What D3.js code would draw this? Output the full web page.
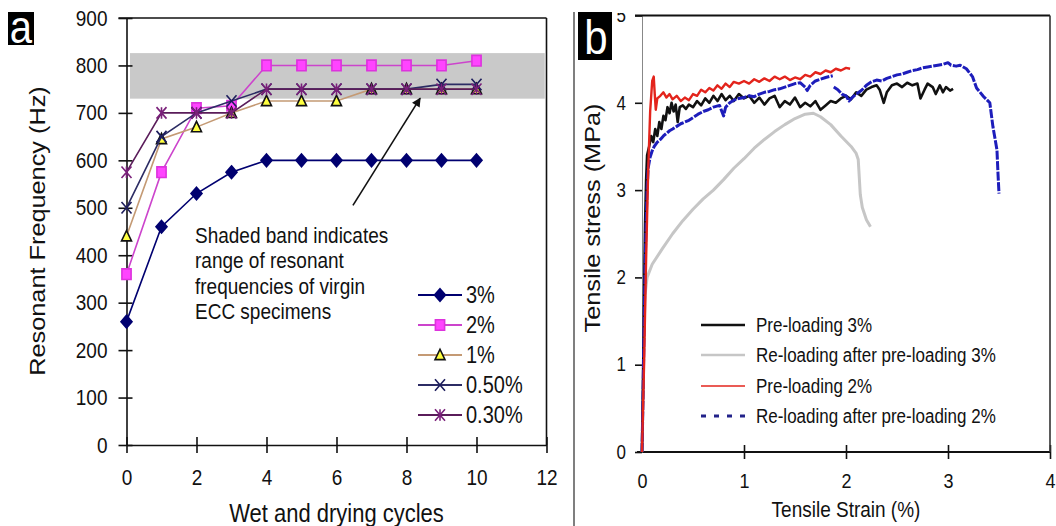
<!DOCTYPE html>
<html>
<head>
<meta charset="utf-8">
<script src="https://cdn.jsdelivr.net/npm/d3@7"></script>
<style>
body { margin: 0; background: #fff; }
svg text { font-family: "Liberation Sans", Arial, sans-serif; fill: #111; }
</style>
</head>
<body>
<svg id="chart" width="1056" height="526"></svg>
<script>
// ---- panel a data: resonant frequency vs wet/dry cycles
var cycles = [0, 1, 2, 3, 4, 5, 6, 7, 8, 9, 10];
var freq3  = [260, 460, 530, 575, 600, 600, 600, 600, 600, 600, 600];
var freq2  = [360, 575, 710, 715, 800, 800, 800, 800, 800, 800, 810];
var freq1  = [440, 645, 670, 700, 725, 725, 725, 750, 750, 750, 750];
var freq05 = [500, 650, 700, 725, 750, 750, 750, 750, 750, 760, 760];
var freq03 = [575, 700, 700, 700, 750, 750, 750, 750, 750, 750, 750];
var namesA = ["3%", "2%", "1%", "0.50%", "0.30%"];
var xTicksA = [0, 2, 4, 6, 8, 10, 12];
var yTicksA = [0, 100, 200, 300, 400, 500, 600, 700, 800, 900];
var bandHz = [730, 826];          // virgin ECC range
var bandCycles = [0.1, 11.95];
var arrowFrom = [6.47, 505], arrowTo = [8.39, 731];
var noteLines = ["Shaded band indicates", "range of resonant", "frequencies of virgin", "ECC specimens"];

// ---- panel b data: [strain %, stress MPa]
var preload3 = [[0,0],[0.01,0.8],[0.02,1.8],[0.03,2.6],[0.04,3.1],[0.05,3.4],[0.07,3.5],[0.09,3.62],[0.11,3.55],
  [0.13,3.7],[0.15,3.62],[0.17,3.78],[0.19,3.7],[0.21,3.85],[0.23,3.8],[0.25,3.95],[0.27,3.88],[0.29,4.0],
  [0.31,3.9],[0.33,3.98],[0.35,3.78],[0.37,3.95],[0.4,3.97],[0.43,3.93],[0.46,3.98],[0.5,3.95],[0.54,4.02],
  [0.58,3.97],[0.62,4.05],[0.66,4.0],[0.7,4.08],[0.74,4.02],[0.78,4.1],[0.82,4.03],[0.86,4.08],[0.9,4.02],
  [0.95,4.1],[1.0,4.05],[1.05,4.08],[1.1,4.0],[1.15,4.06],[1.2,3.98],[1.25,4.05],[1.3,4.08],[1.35,3.95],
  [1.4,4.02],[1.45,3.98],[1.5,4.06],[1.55,3.95],[1.6,4.0],[1.65,3.96],[1.7,4.02],[1.75,3.92],[1.8,3.97],
  [1.85,4.02],[1.9,4.0],[1.95,4.05],[2.0,4.08],[2.05,4.04],[2.1,4.12],[2.15,4.08],[2.2,4.15],[2.25,4.18],
  [2.3,4.2],[2.33,4.15],[2.37,4.0],[2.4,4.12],[2.45,4.2],[2.5,4.22],[2.55,4.18],[2.6,4.23],[2.65,4.2],
  [2.7,4.22],[2.73,4.05],[2.77,4.15],[2.8,4.22],[2.85,4.18],[2.88,4.1],[2.92,4.2],[2.95,4.12],[2.98,4.18],
  [3.02,4.14],[3.05,4.16]];
var reload3 = [[0,0],[0.01,0.7],[0.02,1.4],[0.03,1.8],[0.05,2.0],[0.1,2.15],[0.2,2.33],[0.3,2.5],[0.4,2.65],
  [0.5,2.78],[0.6,2.9],[0.7,3.0],[0.8,3.12],[0.9,3.25],[1.0,3.36],[1.1,3.48],[1.2,3.58],[1.3,3.67],
  [1.4,3.75],[1.5,3.82],[1.6,3.87],[1.68,3.88],[1.75,3.84],[1.85,3.75],[1.95,3.62],[2.05,3.5],[2.1,3.42],
  [2.12,3.35],[2.13,3.15],[2.14,2.95],[2.16,2.8],[2.2,2.66],[2.24,2.58]];
var preload2 = [[0,0],[0.02,1.0],[0.04,2.2],[0.06,3.2],[0.08,3.9],[0.1,4.25],[0.115,4.3],[0.125,4.1],
  [0.135,3.92],[0.15,4.05],[0.18,4.08],[0.21,4.12],[0.24,4.06],[0.27,4.1],[0.3,4.04],[0.34,4.08],[0.38,4.02],
  [0.42,4.06],[0.46,4.03],[0.5,4.1],[0.54,4.08],[0.58,4.15],[0.62,4.12],[0.66,4.17],[0.7,4.14],[0.74,4.2],
  [0.78,4.16],[0.82,4.22],[0.86,4.18],[0.9,4.24],[0.95,4.22],[1.0,4.25],[1.05,4.22],[1.1,4.27],[1.15,4.24],
  [1.2,4.28],[1.25,4.25],[1.3,4.3],[1.35,4.27],[1.4,4.3],[1.45,4.26],[1.5,4.29],[1.55,4.27],[1.6,4.32],
  [1.65,4.3],[1.7,4.35],[1.75,4.33],[1.8,4.37],[1.85,4.35],[1.9,4.39],[1.95,4.37],[2.0,4.4],[2.04,4.39]];
var reload2 = [[0,0],[0.01,0.6],[0.02,1.4],[0.03,2.1],[0.04,2.6],[0.05,3.0],[0.06,3.25],[0.08,3.38],[0.1,3.45],
  [0.12,3.5],[0.15,3.55],[0.18,3.58],[0.21,3.62],[0.24,3.65],[0.27,3.68],[0.3,3.7],[0.34,3.73],[0.38,3.76],
  [0.42,3.78],[0.46,3.8],[0.5,3.83],[0.55,3.87],[0.6,3.9],[0.65,3.92],[0.7,3.95],[0.76,3.97],[0.8,3.85],
  [0.82,3.95],[0.86,4.0],[0.9,4.03],[0.95,4.05],[1.0,4.06],[1.05,4.08],[1.1,4.07],[1.15,4.1],[1.2,4.12],
  [1.25,4.13],[1.3,4.15],[1.35,4.16],[1.4,4.18],[1.45,4.2],[1.5,4.22],[1.55,4.23],[1.6,4.18],[1.62,4.14],
  [1.65,4.2],[1.7,4.25],[1.75,4.27],[1.8,4.29],[1.87,4.31],[1.875,null],
  [1.88,4.18],[1.92,4.15],[1.96,4.1],[2.0,4.08],[2.03,4.02],[2.06,4.06],[2.1,4.1],[2.15,4.14],[2.2,4.2],
  [2.25,4.24],[2.3,4.26],[2.35,4.25],[2.4,4.28],[2.45,4.3],[2.5,4.32],[2.55,4.33],[2.6,4.35],[2.65,4.37],
  [2.7,4.38],[2.75,4.4],[2.8,4.41],[2.85,4.42],[2.9,4.43],[2.95,4.44],[3.0,4.46],[3.03,4.43],[3.08,4.42],
  [3.12,4.43],[3.18,4.39],[3.24,4.3],[3.28,4.17],[3.35,4.07],[3.41,4.0],[3.44,3.73],[3.48,3.46],[3.49,3.19],
  [3.5,2.96]];
var namesB = ["Pre-loading 3%", "Re-loading after pre-loading 3%", "Pre-loading 2%", "Re-loading after pre-loading 2%"];
var xTicksB = [0, 1, 2, 3, 4];
var yTicksB = [0, 1, 2, 3, 4, 5];

var K = 1.15; // the scan is a bit tall, stretch the text vertically

var svg = d3.select("#chart");
svg.append("rect").attr("width", 1056).attr("height", 526).attr("fill", "#fff");

function stretch(sel) {
    sel.attr("transform", function() {
        var y = +this.getAttribute("y") || 0;
        return "translate(0," + y + ") scale(1," + K + ") translate(0," + (-y) + ")";
    });
}

function markerPath(type, s) {
    var h = s * K;
    if (type == "diamond") return "M0," + (-h) + "L" + s + ",0L0," + h + "L" + (-s) + ",0Z";
    if (type == "square") return "M" + (-s) + "," + (-h) + "H" + s + "V" + h + "H" + (-s) + "Z";
    if (type == "triangle") return "M0," + (-h) + "L" + s + "," + (h * 0.8) + "L" + (-s) + "," + (h * 0.8) + "Z";
    var x = "M" + (-s) + "," + (-h) + "L" + s + "," + h + "M" + s + "," + (-h) + "L" + (-s) + "," + h;
    if (type == "star") return x + "M0," + (-h) + "V" + h;
    return x;
}

// =================== panel a
var xA = d3.scaleLinear().domain([0, 12]).range([126.5, 546.5]);
var yA = d3.scaleLinear().domain([0, 900]).range([445, 18]);
var gA = svg.append("g");

gA.append("rect")
    .attr("x", xA(bandCycles[0]))
    .attr("width", xA(bandCycles[1]) - xA(bandCycles[0]))
    .attr("y", yA(bandHz[1]))
    .attr("height", yA(bandHz[0]) - yA(bandHz[1]))
    .attr("fill", "#c9c9c9");

// frame top + right
gA.append("line").attr("x1", xA(0) - 8).attr("x2", xA(12)).attr("y1", yA(900)).attr("y2", yA(900))
    .attr("stroke", "#111").attr("stroke-width", 1.6);
gA.append("line").attr("x1", xA(12)).attr("x2", xA(12)).attr("y1", yA(900)).attr("y2", yA(0))
    .attr("stroke", "#111").attr("stroke-width", 1.6);

var xAxisA = gA.append("g")
    .attr("transform", "translate(0," + yA(0) + ")")
    .call(d3.axisBottom(xA).tickValues(xTicksA).tickSize(8).tickSizeOuter(0).tickFormat(d3.format("d")));
var yAxisA = gA.append("g")
    .attr("transform", "translate(" + xA(0) + ",0)")
    .call(d3.axisLeft(yA).tickValues(yTicksA).tickSize(8).tickSizeOuter(0).tickFormat(d3.format("d")));

[xAxisA, yAxisA].forEach(function(ax) {
    ax.attr("font-family", null).attr("font-size", null);
    ax.select(".domain").attr("stroke", "#111").attr("stroke-width", 1.6);
    ax.selectAll(".tick line").attr("stroke", "#111").attr("stroke-width", 1.6);
    ax.selectAll(".tick text").style("font-size", "19px");
});
xAxisA.selectAll(".tick line").attr("y1", -8).attr("y2", 8);
xAxisA.selectAll(".tick text").attr("y", 24).call(stretch);
yAxisA.selectAll(".tick line").attr("x1", -8).attr("x2", 6);
yAxisA.selectAll(".tick text").attr("x", -19).call(stretch);

gA.append("text")
    .attr("transform", "translate(37,231) scale(1," + K + ") rotate(-90)")
    .attr("text-anchor", "middle").attr("dy", "0.35em")
    .style("font-size", "22px")
    .text("Resonant Frequency (Hz)");
gA.append("text")
    .attr("x", xA(6)).attr("y", 522)
    .attr("text-anchor", "middle")
    .style("font-size", "22px")
    .text("Wet and drying cycles")
    .call(stretch);

// note + arrow
svg.append("defs").append("marker")
    .attr("id", "head").attr("viewBox", "0 0 10 10").attr("refX", 9).attr("refY", 5)
    .attr("markerWidth", 11).attr("markerHeight", 9).attr("markerUnits", "userSpaceOnUse")
    .attr("orient", "auto")
  .append("path").attr("d", "M0,0L10,5L0,10Z").attr("fill", "#111");
gA.append("line")
    .attr("x1", xA(arrowFrom[0])).attr("y1", yA(arrowFrom[1]))
    .attr("x2", xA(arrowTo[0])).attr("y2", yA(arrowTo[1]))
    .attr("stroke", "#111").attr("stroke-width", 1.6)
    .attr("marker-end", "url(#head)");
gA.selectAll(".note").data(noteLines).enter().append("text")
    .attr("class", "note")
    .attr("x", 195)
    .attr("y", function(d, i) { return 243 + i * 25.5; })
    .style("font-size", "19px")
    .text(function(d) { return d; })
    .call(stretch);

var seriesA = [freq3, freq2, freq1, freq05, freq03];
var styleA = [
    {line: "#000070", mark: "diamond", size: 5.5, fill: "#000070", stroke: "#000070"},
    {line: "#cc44cc", mark: "square", size: 4.6, fill: "#ff44ff", stroke: "#dd33dd"},
    {line: "#c49a74", mark: "triangle", size: 5, fill: "#ffff40", stroke: "#111"},
    {line: "#2c2c64", mark: "x", size: 5, fill: "none", stroke: "#1c1c5c"},
    {line: "#5a1c5a", mark: "star", size: 5, fill: "none", stroke: "#7a207a"}
];

var lineA = d3.line()
    .x(function(d, i) { return xA(cycles[i]); })
    .y(function(d) { return yA(d); });

seriesA.forEach(function(vals, k) {
    var st = styleA[k];
    gA.append("path").datum(vals)
        .attr("d", lineA).attr("fill", "none")
        .attr("stroke", st.line).attr("stroke-width", 1.6);
    gA.selectAll(".m" + k).data(vals).enter().append("path")
        .attr("class", "m" + k)
        .attr("transform", function(d, i) { return "translate(" + xA(cycles[i]) + "," + yA(d) + ")"; })
        .attr("d", markerPath(st.mark, st.size))
        .attr("fill", st.fill).attr("stroke", st.stroke).attr("stroke-width", 1.6);
});

// legend a
var legA = gA.selectAll(".legA").data(namesA).enter().append("g")
    .attr("class", "legA")
    .attr("transform", function(d, i) { return "translate(418," + (295 + i * 30) + ")"; });
legA.append("line").attr("x1", 0).attr("x2", 44)
    .attr("stroke", function(d, i) { return styleA[i].line; }).attr("stroke-width", 1.8);
legA.append("path")
    .attr("transform", "translate(22,0)")
    .attr("d", function(d, i) { return markerPath(styleA[i].mark, styleA[i].size); })
    .attr("fill", function(d, i) { return styleA[i].fill; })
    .attr("stroke", function(d, i) { return styleA[i].stroke; }).attr("stroke-width", 1.6);
legA.append("text").attr("x", 48).attr("y", 8)
    .style("font-size", "20px")
    .text(function(d) { return d; })
    .call(stretch);

// panel letter a
svg.append("rect").attr("x", 8).attr("y", 12).attr("width", 26).attr("height", 33).attr("fill", "#000");
svg.append("text").attr("x", 21).attr("y", 43).attr("text-anchor", "middle")
    .style("font-size", "40px").style("fill", "#fff").text("a").call(stretch);

// divider
svg.append("line").attr("x1", 574).attr("x2", 574).attr("y1", 12).attr("y2", 526)
    .attr("stroke", "#555").attr("stroke-width", 1.5);

// =================== panel b
var xB = d3.scaleLinear().domain([0, 4]).range([642, 1050]);
var yB = d3.scaleLinear().domain([0, 5]).range([452, 15.5]);
var gB = svg.append("g");

var xAxisB = gB.append("g")
    .attr("transform", "translate(0," + yB(0) + ")")
    .call(d3.axisBottom(xB).tickValues(xTicksB).tickSize(7).tickSizeOuter(0).tickFormat(d3.format("d")));
var yAxisB = gB.append("g")
    .attr("transform", "translate(" + xB(0) + ",0)")
    .call(d3.axisLeft(yB).tickValues(yTicksB).tickSize(7).tickSizeOuter(0).tickFormat(d3.format("d")));
[xAxisB, yAxisB].forEach(function(ax) {
    ax.attr("font-family", null).attr("font-size", null);
    ax.selectAll(".tick line").attr("stroke", "#111").attr("stroke-width", 1.6);
});
xAxisB.select(".domain").attr("stroke", "#111").attr("stroke-width", 1.8)
    .attr("d", "M" + (xB(0) - 5) + ",0H" + xB(4));
xAxisB.selectAll(".tick line").attr("y1", -7).attr("y2", 7)
    .attr("stroke-opacity", function(d) { return d == 0 ? 0 : 1; });
xAxisB.selectAll(".tick text").attr("y", 21).style("font-size", "18px").call(stretch);
yAxisB.select(".domain").attr("stroke", "#888").attr("stroke-width", 1);
yAxisB.selectAll(".tick text").attr("x", -16).style("font-size", "17px").call(stretch);

gB.append("line").attr("x1", xB(0) - 7).attr("x2", xB(4)).attr("y1", yB(5)).attr("y2", yB(5))
    .attr("stroke", "#111").attr("stroke-width", 2);
gB.append("line").attr("x1", xB(4)).attr("x2", xB(4)).attr("y1", yB(5)).attr("y2", yB(0))
    .attr("stroke", "#333").attr("stroke-width", 1.6);
// scan is cropped just above the top tick label
gB.append("rect").attr("x", 596).attr("y", 0).attr("width", 40).attr("height", 13).attr("fill", "#fff");

gB.append("text")
    .attr("transform", "translate(592,218) scale(1," + K + ") rotate(-90)")
    .attr("text-anchor", "middle").attr("dy", "0.35em")
    .style("font-size", "22px")
    .text("Tensile stress (MPa)");
gB.append("text")
    .attr("x", xB(2)).attr("y", 517)
    .attr("text-anchor", "middle")
    .style("font-size", "19px")
    .text("Tensile Strain (%)")
    .call(stretch);

var seriesB = [preload3, reload3, preload2, reload2];
var styleB = [
    {color: "#111", width: 2.6, dash: null, legDash: null},
    {color: "#c6c6c6", width: 3, dash: null, legDash: null},
    {color: "#e3241c", width: 2.4, dash: null, legDash: null},
    {color: "#1d1dbb", width: 3, dash: "9,1.5", legDash: "5,8"}
];
var lineB = d3.line()
    .defined(function(d) { return d[1] != null; })
    .x(function(d) { return xB(d[0]); })
    .y(function(d) { return yB(d[1]); });

[1, 0, 3, 2].forEach(function(k) {
    gB.append("path").datum(seriesB[k])
        .attr("d", lineB).attr("fill", "none")
        .attr("stroke", styleB[k].color).attr("stroke-width", styleB[k].width)
        .attr("stroke-linejoin", "round")
        .attr("stroke-dasharray", styleB[k].dash);
});

var legB = gB.selectAll(".legB").data(namesB).enter().append("g")
    .attr("class", "legB")
    .attr("transform", function(d, i) { return "translate(701," + [325, 355, 386, 416][i] + ")"; });
legB.append("line").attr("x1", 0).attr("x2", 44)
    .attr("stroke", function(d, i) { return i == 3 ? "#22228a" : styleB[i].color; })
    .attr("stroke-width", function(d, i) { return i == 2 ? 1.6 : (i == 3 ? 3 : 2.4); })
    .attr("stroke-dasharray", function(d, i) { return styleB[i].legDash; });
legB.append("text").attr("x", 55).attr("y", 7)
    .style("font-size", "17px")
    .text(function(d) { return d; })
    .call(stretch);

// panel letter b
svg.append("rect").attr("x", 578).attr("y", 12).attr("width", 34).attr("height", 48).attr("fill", "#000");
svg.append("text").attr("x", 596).attr("y", 54).attr("text-anchor", "middle")
    .style("font-size", "42px").style("fill", "#fff").text("b").call(stretch);
</script>
</body>
</html>
